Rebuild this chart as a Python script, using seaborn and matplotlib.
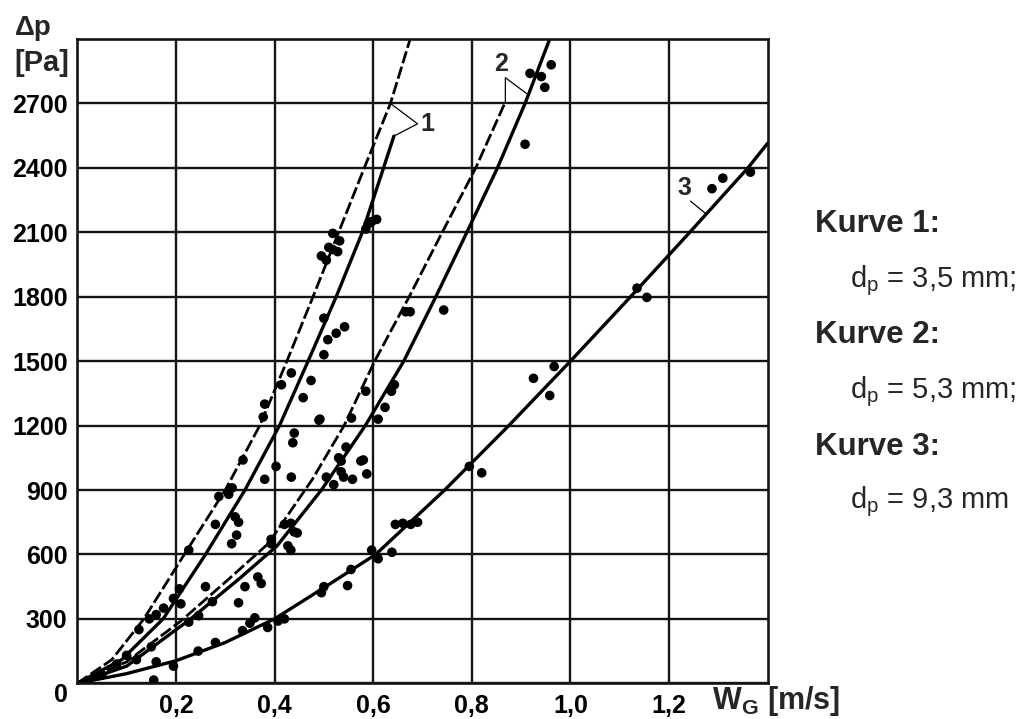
import numpy as np
import pandas as pd
import matplotlib
matplotlib.use("Agg")
import matplotlib.pyplot as plt
import seaborn as sns

# ---------------- data (W_G in m/s, delta p in Pa) ----------------
c1_dash_x = [0, 0.07, 0.135, 0.217, 0.300, 0.370, 0.425, 0.478, 0.530, 0.582, 0.635, 0.675]
c1_dash_y = [0, 110, 300, 600, 900, 1200, 1500, 1800, 2100, 2400, 2700, 3000]
c1_solid_x = [0, 0.09, 0.174, 0.260, 0.340, 0.410, 0.468, 0.525, 0.578, 0.621, 0.642]
c1_solid_y = [0, 110, 300, 600, 900, 1200, 1500, 1800, 2100, 2400, 2548]
c2_dash_x = [0, 0.10, 0.210, 0.307, 0.387, 0.477, 0.541, 0.603, 0.673, 0.740, 0.808, 0.868]
c2_dash_y = [0, 100, 290, 485, 650, 951, 1200, 1500, 1800, 2100, 2400, 2707]
c2_solid_x = [0, 0.10, 0.230, 0.330, 0.405, 0.495, 0.584, 0.662, 0.727, 0.790, 0.852, 0.908, 0.958]
c2_solid_y = [0, 80, 300, 490, 640, 900, 1200, 1500, 1800, 2100, 2400, 2700, 3000]
c3_x = [0, 0.10, 0.20, 0.30, 0.40, 0.50, 0.605, 0.745, 0.875, 1.000, 1.122, 1.242, 1.360, 1.40]
c3_y = [0, 45, 105, 190, 300, 445, 600, 900, 1200, 1500, 1800, 2100, 2400, 2515]

dots1_x = [0.05, 0.08, 0.10, 0.125, 0.146, 0.16, 0.175, 0.195, 0.207, 0.21, 0.226, 0.26, 0.28, 0.287,
           0.307, 0.313, 0.314, 0.32, 0.323, 0.327, 0.336, 0.38, 0.38, 0.377, 0.403, 0.434, 0.437,
           0.44, 0.414, 0.434, 0.458, 0.474, 0.49, 0.50, 0.50, 0.508, 0.525, 0.542, 0.495, 0.505,
           0.518, 0.518, 0.528, 0.532, 0.51, 0.585, 0.597, 0.607, 0.59]
dots1_y = [40, 90, 130, 250, 300, 320, 350, 395, 440, 370, 620, 450, 740, 870,
           880, 650, 910, 775, 690, 750, 1040, 950, 1300, 1240, 1010, 960, 1120,
           1165, 1390, 1445, 1330, 1410, 1225, 1530, 1700, 1600, 1630, 1660, 1990, 1970,
           2095, 2020, 2010, 2060, 2030, 2115, 2150, 2160, 2140]
dots2_x = [0.12, 0.15, 0.226, 0.246, 0.274, 0.327, 0.34, 0.366, 0.373, 0.393, 0.393, 0.427, 0.433,
           0.433, 0.42, 0.446, 0.44, 0.492, 0.505, 0.52, 0.535, 0.535, 0.54, 0.545, 0.53, 0.558,
           0.575, 0.587, 0.58, 0.556, 0.61, 0.624, 0.637, 0.585, 0.643, 0.666, 0.675, 0.743,
           0.908, 0.918, 0.941, 0.948, 0.961]
dots2_y = [110, 170, 285, 315, 380, 375, 450, 495, 465, 650, 670, 640, 620,
           745, 740, 700, 705, 1230, 960, 925, 1035, 985, 960, 1100, 1050, 950,
           1035, 975, 1040, 1235, 1230, 1285, 1360, 1360, 1390, 1730, 1730, 1738,
           2510, 2840, 2825, 2775, 2880]
dots3_x = [0.155, 0.16, 0.195, 0.245, 0.28, 0.335, 0.35, 0.36, 0.386, 0.407, 0.42, 0.495, 0.50,
           0.548, 0.555, 0.597, 0.61, 0.638, 0.645, 0.66, 0.676, 0.69, 0.795, 0.82, 0.925, 0.958,
           0.967, 1.135, 1.155, 1.287, 1.309, 1.365]
dots3_y = [15, 100, 80, 150, 190, 245, 280, 305, 260, 290, 300, 422, 450,
           455, 530, 620, 580, 610, 740, 745, 740, 750, 1010, 980, 1420, 1340,
           1475, 1840, 1797, 2303, 2352, 2380]

x_ticks = [0.2, 0.4, 0.6, 0.8, 1.0, 1.2]
x_tick_labels = ["0,2", "0,4", "0,6", "0,8", "1,0", "1,2"]
y_ticks = [0, 300, 600, 900, 1200, 1500, 1800, 2100, 2400, 2700]
y_tick_labels = [str(v) for v in y_ticks]

legend_lines = [("Kurve 1:", True), ("d$_{\\mathregular{p}}$ = 3,5 mm;", False),
                ("Kurve 2:", True), ("d$_{\\mathregular{p}}$ = 5,3 mm;", False),
                ("Kurve 3:", True), ("d$_{\\mathregular{p}}$ = 9,3 mm", False)]

# ---------------- style ----------------
sns.set_theme(style="white")
plt.rcParams["font.family"] = ["Liberation Sans", "DejaVu Sans"]
plt.rcParams["mathtext.fontset"] = "custom"
plt.rcParams["mathtext.rm"] = "Liberation Sans"
plt.rcParams["mathtext.bf"] = "Liberation Sans:bold"
plt.rcParams["mathtext.it"] = "Liberation Sans:italic"

W, H = 1028, 719
fig = plt.figure(figsize=(W / 100, H / 100), dpi=100)
L, R, T, B = 77.3, 767.7, 39.0, 683.3
ax = fig.add_axes([L / W, 1 - B / H, (R - L) / W, (B - T) / H])

solid_kw = dict(color="black", lw=2.4, solid_capstyle="round", solid_joinstyle="round")
dash_kw = dict(color="black", lw=2.0, linestyle=(0, (4.5, 1.3)))

df = lambda x, y: pd.DataFrame({"x": x, "y": y})
sns.lineplot(data=df(c1_dash_x, c1_dash_y), x="x", y="y", ax=ax, estimator=None, sort=False, **dash_kw)
sns.lineplot(data=df(c1_solid_x, c1_solid_y), x="x", y="y", ax=ax, estimator=None, sort=False, **solid_kw)
sns.lineplot(data=df(c2_dash_x, c2_dash_y), x="x", y="y", ax=ax, estimator=None, sort=False, **dash_kw)
sns.lineplot(data=df(c2_solid_x, c2_solid_y), x="x", y="y", ax=ax, estimator=None, sort=False, **solid_kw)
sns.lineplot(data=df(c3_x, c3_y), x="x", y="y", ax=ax, estimator=None, sort=False, **solid_kw)

for dx, dy in [(dots1_x, dots1_y), (dots2_x, dots2_y), (dots3_x, dots3_y)]:
    sns.scatterplot(data=df(dx, dy), x="x", y="y", ax=ax, color="black", s=48,
                    edgecolor="none", zorder=4)

ax.set_xlim(0, 1.4)
ax.set_ylim(0, 3000)
ax.set_xticks(x_ticks)
ax.set_xticklabels(x_tick_labels, fontsize=18, fontweight="bold")
ax.set_yticks(y_ticks)
ax.set_yticklabels(y_tick_labels, fontsize=18, fontweight="bold")
ax.get_yticklabels()[0].set_va("top")
ax.tick_params(axis="both", length=0, colors="black")
ax.tick_params(axis="y", pad=7)
ax.tick_params(axis="x", pad=8)
ax.grid(True, color="#141414", lw=1.7)
ax.set_axisbelow(True)
for s in ax.spines.values():
    s.set_color("#141414")
    s.set_linewidth(1.9)
    s.set_visible(True)
ax.set_xlabel("")
ax.set_ylabel("")

# ---------------- curve annotations ----------------
lk = dict(color="black", lw=0.9, zorder=5)
# curve 1
p_d1 = (float(np.interp(2700, c1_dash_y, c1_dash_x)), 2700)
p_s1 = (c1_solid_x[-1], c1_solid_y[-1])
v1 = (p_s1[0] + 0.048, 2605)
ax.plot([p_d1[0], v1[0], p_s1[0]], [p_d1[1], v1[1], p_s1[1]], **lk)
ax.text(v1[0] + 0.006, v1[1], "1", fontsize=18, fontweight="bold", ha="left", va="center")
# curve 2
p_d2 = (c2_dash_x[-1], c2_dash_y[-1])
p_s2 = (float(np.interp(2740, c2_solid_y, c2_solid_x)), 2740)
v2 = (p_d2[0], 2820)
ax.plot([p_d2[0], v2[0], p_s2[0]], [p_d2[1], v2[1], p_s2[1]], **lk)
ax.text(v2[0] - 0.008, v2[1] + 10, "2", fontsize=18, fontweight="bold", ha="center", va="bottom")
# curve 3
p_3 = (float(np.interp(2185, c3_y, c3_x)), 2185)
v3 = (p_3[0] - 0.032, 2245)
ax.plot([v3[0], p_3[0]], [v3[1], p_3[1]], **lk)
ax.text(v3[0] - 0.012, v3[1] + 5, "3", fontsize=18, fontweight="bold", ha="center", va="bottom")

# ---------------- axis titles ----------------
fig.text(15 / W, 1 - 35 / H, "Δp", fontsize=20, fontweight="bold", ha="left", va="baseline")
fig.text(14 / W, 1 - 71 / H, "[Pa]", fontsize=21, fontweight="bold", ha="left", va="baseline")
fig.text(712 / W, 1 - 709 / H, "$\\mathbf{W_G}$ [m/s]", fontsize=22, fontweight="bold",
         ha="left", va="baseline")

# ---------------- side text ----------------
baselines = [232, 287, 343, 398, 455, 508]
for (txt, bold), yb in zip(legend_lines, baselines):
    xl = 815 if bold else 850
    fig.text(xl / W, 1 - yb / H, txt, fontsize=22.5 if bold else 21,
             fontweight="bold" if bold else "normal", ha="left", va="baseline")

fig.savefig("out.png", dpi=100, facecolor="white")
